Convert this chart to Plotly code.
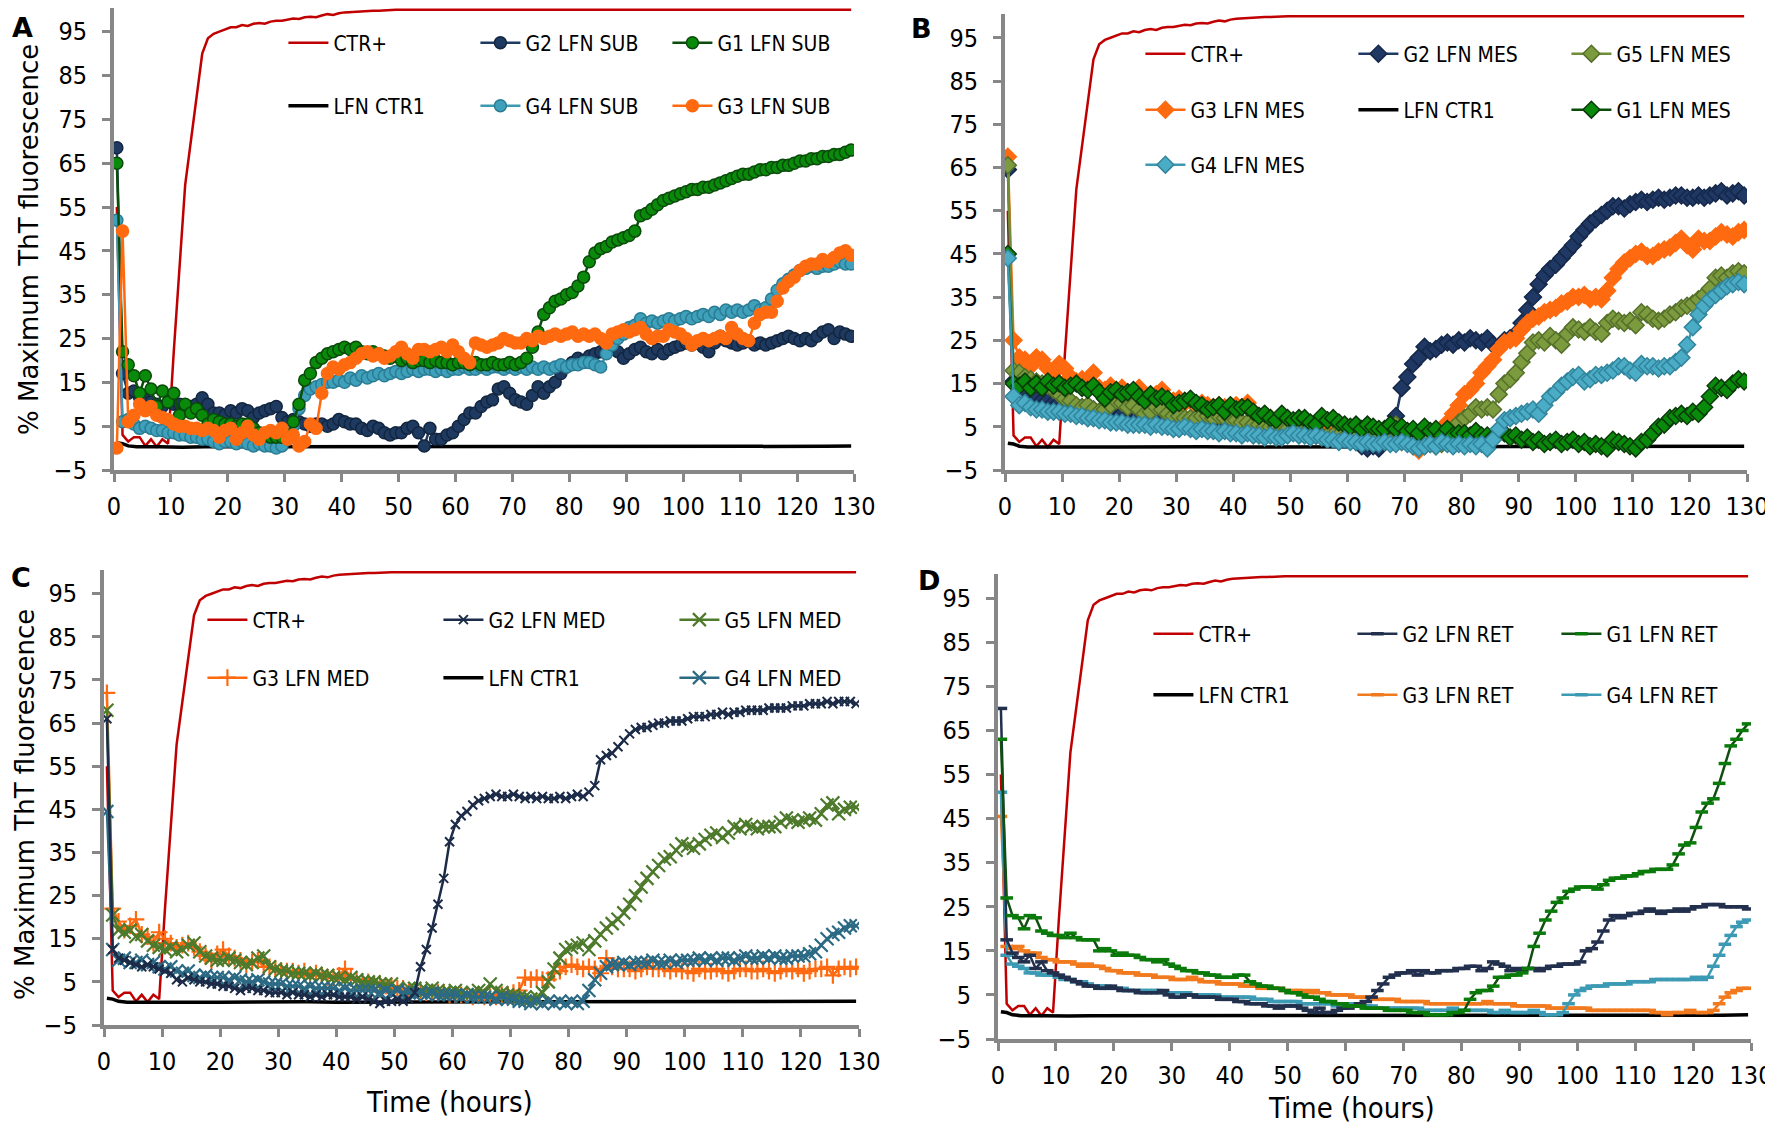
import plotly.graph_objects as go

# readings every hour, first read at 0.5 h
HOURS = [k + 0.5 for k in range(130)]

# positive control, flat at 100 after ~50 h
CTR_HOURS = [k + 0.5 for k in range(50)] + [129.5]
CTR_POS = [
    55, 3, 1.5, 2.5, 2.5, 0.5, 2, 0.3, 2, 1,
    22, 42, 60, 70, 80, 90, 93.5, 94.5, 95, 95.5,
    96, 96, 96.5, 96.3, 96.8, 97, 96.8, 97.3, 97.5, 97.5,
    97.8, 98, 97.9, 98.3, 98.4, 98.3, 98.7, 99, 98.8, 99.2,
    99.4, 99.5, 99.5, 99.6, 99.7, 99.8, 99.8, 99.9, 99.9, 100,
    100]

CTR1_HOURS = [0.5, 1.5, 2.5, 4, 8, 12, 16, 20, 25, 30, 35, 40, 45, 50, 55,
              60, 65, 70, 75, 80, 85, 90, 95, 100, 105, 110, 115, 120, 125, 129.5]
LFN_CTR1 = [1.2, 1.0, 0.5, 0.3, 0.3, 0.2, 0.3, 0.3, 0.4, 0.3, 0.4, 0.3, 0.3, 0.4, 0.3,
            0.4, 0.3, 0.3, 0.4, 0.3, 0.4, 0.3, 0.4, 0.3, 0.3, 0.4, 0.3, 0.3, 0.4, 0.5]

# ---- panel A (SUB) ----
A_G2 = [
    68.5, 17, 12.5, 13, 11.5, 11, 10.5, 10, 9.5, 10.5,
    10, 10, 9.5, 9.5, 10, 11.5, 10, 8, 8, 7.5,
    8.5, 8, 9, 8.5, 7, 8, 8.5, 9, 9.5, 7,
    6, 6.5, 6, 5.5, 5, 5.5, 5.5, 5, 5.5, 6.5,
    6, 5.5, 5.5, 4.5, 4, 5, 4.5, 3.5, 3, 3.5,
    3.5, 4.5, 5, 3.5, 0.5, 4.5, 2, 2, 3, 3.5,
    5, 6.5, 8, 8, 9.5, 10.5, 11, 13.5, 14, 12.5,
    11, 10.5, 10, 12, 14, 12.5, 14, 15, 17, 18.5,
    19.5, 20.5, 20, 21, 21.5, 22, 22.5, 23.5, 22, 20.5,
    21.5, 22.5, 23, 22, 21.5, 22.5, 21.5, 22.5, 23, 23.5,
    24, 23.5, 24, 23, 22, 24, 25.5, 24.5, 24, 23.5,
    24, 24.5, 23.5, 24, 23.5, 24, 24.5, 25, 25.5, 25,
    24.5, 25, 24.5, 25.5, 26.5, 27, 25, 26.5, 26, 25.5]
A_G1 = [
    65, 22, 19, 16.5, 12.5, 16.5, 13.5, 9.5, 13, 10.5,
    12.5, 7.5, 10, 8, 9, 7.5, 5.5, 6.5, 6, 5.5,
    5.5, 5, 5.5, 5.5, 4.5, 3.5, 3, 2.5, 2.5, 2.5,
    3, 6, 10, 15.5, 17, 19.5, 20.5, 21.5, 22, 22.5,
    23, 22.5, 23, 22, 21.5, 22, 21.5, 21, 20.5, 21,
    20, 20.5, 19.5, 20, 20, 19.5, 20, 19.5, 19.5, 19,
    19.5, 19.5, 19, 19.5, 19, 19, 19.5, 19, 19, 19.5,
    19, 19.5, 20.5, 23, 26.5, 30.5, 32, 33.5, 34, 35,
    35.5, 37, 39, 42.5, 44.5, 45.5, 46, 47, 47.5, 48,
    48.5, 49.5, 53, 53.5, 54.5, 55.5, 56.5, 57, 57.5, 58,
    58.5, 59, 59, 59.5, 59.5, 60, 60.5, 61, 61.5, 62,
    62.5, 62.5, 63, 63.5, 63.5, 64, 64, 64.5, 64.5, 65,
    65.5, 65.5, 66, 66, 66.5, 66.5, 67, 67, 67.5, 68]
A_G4 = [
    52, 6, 6.5, 5.5, 4.5, 5, 4.5, 4, 4, 3.5,
    3.5, 3, 3, 2.5, 2.5, 2, 2, 1.5, 1, 1.5,
    1.5, 1, 1.5, 1, 0.5, 1, 0.5, 0.5, 0, 0.5,
    2, 5, 9, 12, 13.5, 14, 14.5, 15, 15, 15.5,
    15, 16, 15.5, 16.5, 16, 16.5, 17, 16.5, 17, 17.5,
    17, 17.5, 18, 17.5, 18, 18, 17.5, 18, 17.5, 18,
    18, 18.5, 18, 18, 18.5, 18, 18.5, 18.5, 18, 18.5,
    18, 18.5, 18, 18.5, 18, 18.5, 18, 18.5, 19, 18.5,
    19, 19, 19.5, 19.5, 19, 18.5, 21.5, 23.5, 25, 26,
    27.5, 28, 29.5, 28.5, 29, 28.5, 29, 29.5, 29, 29.5,
    30, 29.5, 30, 30.5, 30, 31, 30.5, 31.5, 31, 31.5,
    31, 31.5, 32.5, 31.5, 32, 34, 36, 37.5, 38.5, 39.5,
    40.5, 41, 41.5, 41, 41.5, 41.5, 42, 42.5, 42, 42]
A_G3 = [
    0, 49.5, 6, 7.5, 10, 8.5, 9.5, 7.5, 7, 6.5,
    5.5, 5, 5, 4.5, 4.5, 4, 4.5, 4, 2.5, 4,
    4.5, 2, 3.5, 5, 3, 2, 3.5, 4, 3.5, 4.5,
    2, 3, 0.5, 1.5, 5.5, 4.5, 12.5, 17, 18.5, 18,
    19, 19.5, 20.5, 21.5, 22, 21, 21.5, 20.5, 21, 22,
    23, 21.5, 20.5, 22.5, 22.5, 22, 22.5, 23, 22, 23.5,
    22, 20.5, 19.5, 24, 23.5, 23, 23.5, 24, 25, 24.5,
    24, 24, 25, 24.5, 25.5, 25, 25.5, 26, 25.5, 26,
    26.5, 25.5, 26, 25.5, 26, 25, 24, 26, 26.5, 27,
    26.5, 27, 27.5, 26, 25, 25.5, 25.5, 27, 26.5, 26,
    25, 23.5, 24.5, 25, 24.5, 25, 25.5, 25, 27.5, 26,
    25, 24.5, 28.5, 30.5, 31, 31, 33.5, 36.5, 38, 39,
    40.5, 41.5, 42, 42, 43, 42.5, 43.5, 44.5, 45, 44]

# ---- panel B (MES) ----
B_G2 = [
    64.5, 15.5, 13, 12.5, 12, 11.5, 11, 11, 10.5, 10.5,
    10, 10, 9.5, 9.5, 9, 9, 8.5, 8.5, 8, 8,
    8, 7.5, 8, 7.5, 7, 7.5, 7, 7, 7.5, 6.5,
    7, 6.5, 6.5, 6, 6.5, 6, 6, 5.5, 6, 5.5,
    5.5, 5, 5.5, 5, 5.5, 5, 4.5, 4.5, 4, 4.5,
    4, 3.5, 4, 3.5, 3, 3, 2.5, 2.5, 2.5, 2,
    2, 1.5, 0.5, 0, 0.5, 0, 1.5, 3.5, 7.5, 14,
    16.5, 19.5, 21, 23.5, 22.5, 23, 24, 24.5, 24, 25,
    24.5, 25.5, 25, 24.5, 25.5, 24, 23.5, 25, 25.5, 26.5,
    29, 32, 35, 38, 40, 41.5, 42.5, 44, 45.5, 47,
    49, 50.5, 52, 53, 54, 55, 56, 56, 55.5, 56.5,
    57, 57.5, 57, 57.5, 58, 57.5, 58, 58.5, 58.5, 58,
    58, 58.5, 58, 58.5, 59, 59.5, 58.5, 59, 59.5, 58.5]
B_G5 = [
    65.5, 18, 17.5, 16.5, 16, 15.5, 15, 14.5, 13.5, 12.5,
    11.5, 11, 10, 9.5, 10, 9, 8.5, 9, 10, 11,
    10.5, 9.5, 10, 9, 8, 8.5, 9.5, 9, 8, 7.5,
    7.5, 7, 7, 7, 7.5, 7.5, 7, 7.5, 7, 7,
    6.5, 6, 6, 5.5, 5.5, 5, 5, 5, 4.5, 4.5,
    4, 4, 3.5, 3.5, 3.5, 3, 3, 3, 3, 2.5,
    2.5, 2.5, 2.5, 2, 2, 2.5, 3, 5, 5.5, 3,
    2, 1.5, 1, 1.5, 1, 0.5, 1, 3, 4.5, 6,
    7, 8, 9.5, 9, 9.5, 9, 12.5, 15, 16, 17.5,
    20, 22, 24.5, 25, 24.5, 26, 25, 24, 26.5, 28,
    27.5, 27, 28, 27, 26.5, 29, 30, 29.5, 29, 29.5,
    28.5, 31.5, 31, 30, 29.5, 30, 31, 31.5, 32.5, 33,
    33.5, 34.5, 35.5, 37, 39.5, 40, 39.5, 40.5, 41, 40.5]
B_G3 = [
    67.5, 25, 21, 20.5, 19, 21, 20.5, 18.5, 17.5, 19.5,
    18.5, 16.5, 15.5, 16, 15, 17.5, 14, 13.5, 14.5, 13,
    14, 13, 12.5, 14, 12.5, 12, 12.5, 13.5, 11, 11,
    11.5, 10.5, 11, 10, 10.5, 10, 9.5, 10, 9.5, 9,
    10, 9.5, 10.5, 8.5, 7.5, 7.5, 7, 6.5, 6, 6,
    5.5, 5, 5, 4.5, 4.5, 4, 4, 4, 3.5, 3.5,
    3.5, 3, 3, 3, 2.5, 3, 2.5, 2, 2, 1.5,
    1.5, 0.5, -0.5, 0.5, 1.5, 2, 3.5, 6, 8, 10,
    12.5, 13.5, 15, 17.5, 19, 20.5, 23, 24.5, 25, 25.5,
    27.5, 29, 30, 30.5, 31.5, 32, 32.5, 33.5, 34, 35,
    35, 35.5, 34.5, 35, 34.5, 36.5, 39.5, 41.5, 43, 44,
    45, 45.5, 44.5, 44.5, 45.5, 46, 46.5, 47.5, 48.5, 47,
    46, 48.5, 48, 48, 49, 50, 49.5, 49, 50, 50.5]
B_G1 = [
    45, 15, 14.5, 15.5, 14, 15, 14, 15.5, 14.5, 15,
    14, 14.5, 15, 14, 13.5, 14.5, 13, 11.5, 13, 13.5,
    12.5, 13, 13.5, 12, 11, 12.5, 11.5, 12, 11.5, 10,
    10.5, 11, 11.5, 10.5, 10, 9, 9.5, 10, 8.5, 10,
    9, 9.5, 9.5, 8.5, 7.5, 8, 7, 6.5, 8, 7,
    6.5, 7, 7, 6, 5.5, 7.5, 6.5, 7, 6, 5.5,
    5, 5.5, 4.5, 5.5, 5, 4.5, 4.5, 5.5, 4.5, 5,
    4, 4.5, 3.5, 5, 4, 4.5, 3, 4.5, 3, 3.5,
    3.5, 3, 4, 3, 3, 2.5, 4, 3.5, 2.5, 3,
    2, 2.5, 1.5, 2, 1, 1.5, 2, 1, 1.5, 2,
    1, 1.5, 0.5, 1, 0.5, 0, 2, 1.5, 1, 0.5,
    0, 1.5, 2, 3.5, 5, 5.5, 7, 7.5, 8, 7.5,
    8.5, 8, 9.5, 12, 14.5, 14, 13.5, 15, 16, 15.5]
B_G4 = [
    44, 12, 10, 10.5, 9.5, 9, 9, 8.5, 8.5, 8.5,
    8, 8, 7.5, 7.5, 7, 7, 6.5, 6.5, 6, 6,
    6, 5.5, 5.5, 5.5, 5.5, 5, 5.5, 5, 5, 4.5,
    4.5, 5, 4.5, 4, 4.5, 4, 4, 3.5, 4, 3.5,
    3.5, 3, 3.5, 3, 3, 2.5, 3, 2.5, 2.5, 3,
    3.5, 3, 3, 2.5, 3, 2.5, 2, 2, 1.5, 2,
    1.5, 1.5, 1, 1.5, 1, 1, 1.5, 1, 1, 1.5,
    1, 0.5, 0, 0.5, 1, 0.5, 1.5, 1, 0.5, 1,
    0.5, 1, 0.5, 1, 0, 2, 4.5, 6.5, 7, 7.5,
    8, 8.5, 9, 8, 10, 12, 13, 14.5, 15.5, 16.5,
    17, 15.5, 16, 17, 17, 17.5, 18, 19, 19, 18,
    17.5, 19.5, 19, 19, 18.5, 19, 19, 20, 21, 24,
    28, 31, 33, 34.5, 35.5, 36.5, 37.5, 38, 38.5, 38]

# ---- panel C (MED) ----
C_G2 = [
    66, 12.5, 10.5, 10, 9.5, 9, 8.5, 9, 8.5, 8,
    7.5, 7, 5.5, 5, 6, 5.5, 5, 5, 4.5, 4.5,
    4, 4, 3.5, 3, 3.5, 3.5, 3, 3, 2.5, 2.5,
    2.5, 2, 2.5, 2, 2, 1.5, 2, 1.5, 2, 2,
    1.5, 1.5, 1.5, 1, 1.5, 1, 0.5, 0, 0.5, 0.5,
    1, 0.5, 1, 2.5, 8.5, 12.5, 17.5, 23, 29, 37.5,
    41.5, 43.5, 44.5, 46, 47, 47.5, 48, 48.5, 48, 48,
    48.5, 48, 47.5, 48, 47.5, 48, 47.5, 47.5, 48, 47.5,
    48, 48.5, 48, 49, 50.5, 56.5, 57.5, 58, 59.5, 61,
    62.5, 63.5, 64, 64, 64.5, 65, 65, 65.5, 65.5, 65.5,
    66, 66.5, 66.5, 66.5, 67, 67, 67.5, 67, 67.5, 67.5,
    68, 68, 68, 68, 68.5, 68.5, 68.5, 68.5, 69, 69,
    69, 69.5, 69.5, 69.5, 70, 69.5, 70, 70, 70, 69.5]
C_G5 = [
    68, 20.5, 17, 16.5, 17, 15.5, 16, 14.5, 13.5, 13,
    12.5, 13, 12, 12.5, 13.5, 14, 12, 11, 10.5, 10,
    10, 10.5, 10, 9.5, 9, 9.5, 10.5, 11, 8.5, 8,
    7.5, 7.5, 7, 7, 7, 6.5, 7, 6.5, 6.5, 6,
    6, 5.5, 6, 5.5, 5, 5, 5, 4.5, 4.5, 4.5,
    3.5, 2, 3.5, 3.5, 3, 3, 3.5, 3, 2.5, 2.5,
    3, 2.5, 2, 2.5, 3, 2.5, 4.5, 3, 2.5, 2,
    2, 1.5, 1.5, 1, 1.5, 2.5, 5, 8, 10.5, 12.5,
    13, 13.5, 14, 12.5, 14.5, 16, 17.5, 18.5, 19.5, 21,
    23, 25, 27, 29, 30.5, 32, 33.5, 34, 35.5, 37,
    36.5, 36, 37, 38, 39, 39.5, 38.5, 39.5, 41, 40.5,
    41.5, 41, 40.5, 41, 41, 41, 42, 43, 42.5, 42,
    42.5, 43, 42.5, 44, 46, 46.5, 44, 45, 45.5, 45.5]
C_G3 = [
    72, 22, 19, 17, 18, 19.5, 16, 15.5, 14, 16.5,
    15, 14, 13, 13.5, 14, 13, 12, 11, 10, 11.5,
    12.5, 11, 10.5, 10, 9, 9.5, 10, 8.5, 8.5, 8,
    7.5, 7.5, 7.5, 7, 7.5, 6.5, 7, 6.5, 6, 6,
    6.5, 8, 6, 5.5, 5, 5, 4.5, 4.5, 4, 4,
    3.5, 3.5, 3, 3, 3, 2.5, 2.5, 2.5, 2.5, 2,
    2, 2, 2, 1.5, 2, 1.5, 1.5, 1.5, 2, 2,
    2.5, 3, 6, 5.5, 6, 5.5, 5.5, 7, 7.5, 8.5,
    9, 8.5, 8, 8.5, 8, 7, 10.5, 8.5, 8, 8,
    8, 7.5, 8, 8.5, 8, 8, 8, 7.5, 8, 7.5,
    7.5, 7, 8, 7.5, 7.5, 8, 7.5, 7, 7.5, 8,
    8, 7.5, 7.5, 8, 7.5, 7, 7.5, 8, 7.5, 8,
    7, 7.5, 8, 8, 8.5, 6.5, 8, 8.5, 8, 8.5]
C_G4 = [
    44.5, 12.5, 10, 10.5, 9.5, 9.5, 10, 9, 9.5, 8.5,
    8, 8.5, 7.5, 7, 7.5, 6.5, 6, 6.5, 6, 6,
    6, 5.5, 6, 5.5, 5, 5, 5.5, 5, 4.5, 4.5,
    4.5, 4, 4, 4, 3.5, 4, 3.5, 3.5, 3.5, 3.5,
    3, 3.5, 3, 3, 3, 3, 3, 2.5, 3, 2.5,
    3, 2.5, 2.5, 2, 2.5, 2, 2.5, 2, 2, 2,
    2, 1.5, 2, 1.5, 1.5, 1.5, 1.5, 1, 1.5, 1,
    1, 0.5, 0.5, 0, 0.5, 0, 0.5, 0, 0.5, 0,
    0.5, 0, 0.5, 3, 5.5, 7, 8.5, 9, 9, 9.5,
    9, 9.5, 9.5, 9.5, 10, 9.5, 9.5, 10, 9.5, 10,
    10, 10, 10.5, 10, 10.5, 10, 10.5, 10.5, 10, 10.5,
    11, 10.5, 10.5, 11, 10.5, 11, 10.5, 10.5, 11, 11,
    11, 11.5, 12, 13.5, 15, 16, 16.5, 17.5, 18, 18]

# ---- panel D (RET) ----
D_G2 = [
    70, 17.5, 14.5, 13.5, 12.5, 14, 11, 12.5, 10.5, 10,
    9.5, 9, 8.5, 8, 7.5, 7, 7, 6.5, 6.5, 7,
    6.5, 6, 6, 6, 5.5, 5.5, 5.5, 5.5, 6, 5,
    4.5, 4.5, 5, 5, 4.5, 4.5, 4.5, 4.5, 4, 4,
    4, 3.5, 3.5, 3, 3, 3, 2.5, 2.5, 2, 2.5,
    2.5, 2.5, 2, 1.5, 1, 2, 1, 1, 1.5, 2,
    2, 2.5, 3, 3.5, 4.5, 6, 7.5, 9, 9.5, 10,
    10, 10.5, 9.5, 10.5, 10, 10, 10.5, 10.5, 10.5, 11,
    11, 11.5, 11.5, 10.5, 11, 12.5, 12, 11.5, 10.5, 11,
    10.5, 11, 11, 10.5, 11, 11.5, 11.5, 12, 12, 12,
    12.5, 15, 15.5, 17, 19.5, 22, 23, 22.5, 23, 23.5,
    23.5, 24, 24.5, 24, 23.5, 24, 24, 24.5, 24, 24.5,
    25, 25, 25.5, 25.5, 25.5, 25, 25, 25, 25, 24.5]
D_G1 = [
    63, 27, 23, 22.5, 20, 23, 22.5, 19.5, 19, 18.5,
    18.5, 18, 19, 18, 17.5, 17.5, 17.5, 15, 15.5, 15,
    14, 14.5, 14, 14, 13.5, 13, 13, 12.5, 13, 12,
    11.5, 11, 10.5, 10.5, 10, 10, 9.5, 9.5, 9, 9,
    9, 9.5, 9.5, 8, 7.5, 7, 7, 6.5, 6.5, 6,
    5.5, 5.5, 5, 4.5, 4.5, 4, 3.5, 3.5, 3, 3,
    2.5, 2.5, 2.5, 2, 2, 2, 2, 1.5, 1.5, 1.5,
    1.5, 1, 1, 1, 0.5, 0.5, 0.5, 0.5, 1, 1,
    1.5, 4, 5.5, 6, 6, 7, 9, 9, 9.5, 9.5,
    10, 11, 16, 19, 22, 24, 26, 27, 28.5, 29,
    29.5, 29.5, 29.5, 29, 30, 31, 31.5, 31.5, 32, 32,
    32.5, 33, 33, 33.5, 33.5, 33.5, 34.5, 37, 39, 39.5,
    43, 46.5, 48.5, 49.5, 53, 57.5, 61.5, 63, 65, 66.5]
D_G3 = [
    45.5, 16, 15.5, 16, 15, 14.5, 14.5, 13.5, 13, 13,
    12.5, 12.5, 12.5, 12, 11.5, 12, 11.5, 11.5, 11, 10.5,
    10.5, 10, 10, 10, 9.5, 9.5, 9.5, 9, 9, 9,
    8.5, 8.5, 8.5, 9, 8.5, 8, 8, 8, 7.5, 7.5,
    7.5, 7.5, 7, 7, 7, 6.5, 6.5, 6.5, 6.5, 6,
    6, 6, 6, 5.5, 6, 5.5, 5.5, 5, 5, 5,
    5, 4.5, 4.5, 4.5, 4.5, 4, 4, 4, 4, 3.5,
    3.5, 3.5, 3.5, 3.5, 3, 3, 3, 3, 3, 3,
    3, 3, 3, 3, 3.5, 3, 3, 3, 3, 2.5,
    2.5, 2.5, 2.5, 2.5, 2.5, 2, 2, 2, 2, 2,
    2, 2, 1.5, 1.5, 1.5, 1.5, 1.5, 1.5, 1.5, 1.5,
    1.5, 1.5, 1.5, 1, 1, 0.5, 1, 1, 1, 1.5,
    1, 1, 1, 1.5, 3, 4.5, 5.5, 6, 6.5, 6.5]
D_G4 = [
    51, 14, 12, 11.5, 11, 10, 10, 9.5, 9.5, 9.5,
    9, 8.5, 8.5, 8, 8, 7.5, 7, 7, 7, 6.5,
    6.5, 6.5, 6, 6, 6, 6, 6, 6, 5.5, 5.5,
    5.5, 5.5, 5.5, 5, 5, 5, 5, 5, 4.5, 4.5,
    4.5, 4.5, 4.5, 4.5, 4, 4, 4, 3.5, 3.5, 3.5,
    3.5, 3.5, 3, 3, 3, 3, 3, 3, 2.5, 2.5,
    3, 2.5, 2.5, 2.5, 2.5, 2, 2, 2, 2, 2,
    2, 2, 2, 1.5, 1.5, 1.5, 1.5, 1.5, 2, 1.5,
    1.5, 1.5, 1.5, 1.5, 1.5, 1, 1, 1.5, 1, 1,
    1, 1, 1.5, 1, 0.5, 0.5, 0.5, 1, 3, 5,
    6, 6.5, 7, 7, 7, 7.5, 7.5, 7.5, 7.5, 8,
    8, 8, 8, 8.5, 8.5, 8.5, 8.5, 8.5, 8.5, 8.5,
    9, 8.5, 9, 11.5, 14, 16.5, 18.5, 20.5, 21.5, 22]

X_TICKS = [0, 10, 20, 30, 40, 50, 60, 70, 80, 90, 100, 110, 120, 130]
Y_TICKS = [-5, 5, 15, 25, 35, 45, 55, 65, 75, 85, 95]

GREY = "#878787"
NARROW = "Liberation Sans Narrow, DejaVu Sans Condensed, Arial Narrow, sans-serif"
RED = "#C00000"

# the page body has an 8px margin, so the figure is drawn 8px smaller and
# every placement below (given in screen pixels) is shifted by that offset
OFF = 8
W, H = 1773 - OFF, 1128 - OFF


def px(x):
    return (x - OFF) / W


def py(y):
    return 1 - (y - OFF) / H


def mk(symbol, fill, edge, size, lw=1.5):
    return dict(symbol=symbol, color=fill, size=size, line=dict(color=edge, width=lw))


# name, values, line color, marker, legend row, rank within row
panels = {
    "A": dict(
        x="x", y="y", xdom=(114, 854), ydom=(8, 470), ytop=100.4,
        rows=[(294, 43), (294, 106)], entry=137,
        series=[
            ("CTR+", None, RED, None, 0, 1),
            ("LFN CTR1", "ctr1", "#000000", None, 1, 1),
            ("G2 LFN SUB", A_G2, "#1F3A60", mk("circle", "#1F3A60", "#13263F", 12), 0, 2),
            ("G4 LFN SUB", A_G4, "#3C98B3", mk("circle", "#3FA0BB", "#2A7C93", 12), 1, 2),
            ("G1 LFN SUB", A_G1, "#0B4D0B", mk("circle", "#0A8A0A", "#0A4A0A", 12), 0, 3),
            ("G3 LFN SUB", A_G3, "#FF6A10", mk("circle", "#FF6A10", "#FF6A10", 12), 1, 3),
        ]),
    "B": dict(
        x="x2", y="y2", xdom=(1005, 1747), ydom=(14, 470), ytop=100.5,
        rows=[(1151, 54), (1151, 110), (1151, 165)], entry=158,
        series=[
            ("CTR+", None, RED, None, 0, 1),
            ("LFN CTR1", "ctr1", "#000000", None, 1, 2),
            ("G2 LFN MES", B_G2, "#1F3864", mk("diamond", "#1F3864", "#15284A", 13), 0, 2),
            ("G3 LFN MES", B_G3, "#FF6A10", mk("diamond", "#FF6A10", "#FF6A10", 13), 1, 1),
            ("G5 LFN MES", B_G5, "#6F8C36", mk("diamond", "#7C9B3E", "#55702A", 13), 0, 3),
            ("G1 LFN MES", B_G1, "#0B4D0B", mk("diamond", "#0A8A0A", "#0A3A0A", 13), 1, 3),
            ("G4 LFN MES", B_G4, "#3C98B3", mk("diamond", "#4BACC6", "#31859C", 13), 2, 1),
        ]),
    "C": dict(
        x="x3", y="y3", xdom=(104, 859), ydom=(570, 1025), ytop=100.5,
        rows=[(213, 620), (213, 678)], entry=181,
        series=[
            ("CTR+", None, RED, None, 0, 1),
            ("LFN CTR1", "ctr1", "#000000", None, 1, 2),
            ("G3 LFN MED", C_G3, "#FF6A10", mk("cross-thin", "#FF6A10", "#FF6A10", 12, 2.2), 1, 1),
            ("G5 LFN MED", C_G5, "#4E7A2C", mk("x-thin", "#4E7A2C", "#4E7A2C", 13, 2.2), 0, 3),
            ("G4 LFN MED", C_G4, "#2C6A84", mk("x-thin", "#2C6A84", "#2C6A84", 13, 2.2), 1, 3),
            ("G2 LFN MED", C_G2, "#1C2B48", mk("x-thin", "#1C2B48", "#1C2B48", 9, 2), 0, 2),
        ]),
    "D": dict(
        x="x4", y="y4", xdom=(998, 1751), ydom=(574, 1039), ytop=100.5,
        rows=[(1159, 634), (1159, 695)], entry=149,
        series=[
            ("CTR+", None, RED, None, 0, 1),
            ("LFN CTR1", "ctr1", "#000000", None, 1, 1),
            ("G3 LFN RET", D_G3, "#F27A1E", mk("line-ew", "#F27A1E", "#F27A1E", 9, 3.5), 1, 2),
            ("G4 LFN RET", D_G4, "#3C9AB4", mk("line-ew", "#3C9AB4", "#3C9AB4", 9, 3.5), 1, 3),
            ("G2 LFN RET", D_G2, "#22304D", mk("line-ew", "#22304D", "#22304D", 9, 3.5), 0, 2),
            ("G1 LFN RET", D_G1, "#0F4F0F", mk("line-ew", "#0A7A0A", "#0A7A0A", 9, 3.5), 0, 3),
        ]),
}

fig = go.Figure()
layout = dict(
    width=W, height=H, margin=dict(l=0, r=0, t=0, b=0, autoexpand=False),
    paper_bgcolor="white", plot_bgcolor="white", showlegend=True,
    font=dict(family=NARROW, color="#000000"),
)

legend_n = 0
for key, p in panels.items():
    # one horizontal legend per legend row
    row_names = []
    for (lx, ly) in p["rows"]:
        legend_n += 1
        name = "legend" if legend_n == 1 else "legend%d" % legend_n
        row_names.append(name)
        layout[name] = dict(
            orientation="h", x=px(lx) - 0.006, y=py(ly), xanchor="left", yanchor="middle",
            bgcolor="rgba(0,0,0,0)", font=dict(family=NARROW, size=21, color="#000"),
            itemwidth=40, entrywidth=p["entry"], entrywidthmode="pixels",
            traceorder="normal", tracegroupgap=0,
        )
    for (name, vals, lcol, marker, row, rank) in p["series"]:
        if vals is None:
            tx, ty, mode, lw = CTR_HOURS, CTR_POS, "lines", 2.5
        elif vals == "ctr1":
            tx, ty, mode, lw = CTR1_HOURS, LFN_CTR1, "lines", 3.5
        else:
            tx, ty, mode, lw = HOURS, vals, "lines+markers", 2.5
        tr = dict(x=tx, y=ty, mode=mode, name=name, xaxis=p["x"], yaxis=p["y"],
                  line=dict(color=lcol, width=lw), legend=row_names[row], legendrank=rank)
        if marker:
            tr["marker"] = marker
        fig.add_trace(go.Scatter(**tr))

    ax = dict(showline=True, linecolor=GREY, linewidth=4, ticks="outside", ticklen=8,
              tickwidth=3, tickcolor=GREY, showgrid=False, zeroline=False,
              tickfont=dict(family=NARROW, size=25, color="#000"))
    xk = "xaxis" if p["x"] == "x" else "xaxis" + p["x"][1:]
    yk = "yaxis" if p["y"] == "y" else "yaxis" + p["y"][1:]
    layout[xk] = dict(ax, domain=[px(p["xdom"][0]), px(p["xdom"][1])], range=[0, 130],
                      tickvals=X_TICKS, anchor=p["y"], ticklabelstandoff=3)
    layout[yk] = dict(ax, domain=[py(p["ydom"][1]), min(1, py(p["ydom"][0]))],
                      range=[-5, p["ytop"]], tickvals=Y_TICKS, anchor=p["x"],
                      ticklabelstandoff=10)

fig.update_layout(**layout)

# panel letters kept just inside the drawable page area
notes = [
    ("A", 22, 27, 27, True, 0, "DejaVu Sans"),
    ("B", 921, 28, 27, True, 0, "DejaVu Sans"),
    ("C", 21, 577, 27, True, 0, "DejaVu Sans"),
    ("D", 929, 580, 27, True, 0, "DejaVu Sans"),
    ("% Maximum ThT fluorescence", 29, 240, 26, False, -90, "DejaVu Sans"),
    ("% Maximum ThT fluorescence", 25, 805, 26, False, -90, "DejaVu Sans"),
    ("Time (hours)", 449, 1102, 29, False, 0, NARROW),
    ("Time (hours)", 1351, 1108, 29, False, 0, NARROW),
]
for (txt, x, y, sz, bold, ang, fam) in notes:
    fig.add_annotation(
        text="<b>%s</b>" % txt if bold else txt, x=px(x), y=py(y),
        xref="paper", yref="paper", showarrow=False, textangle=ang,
        font=dict(family=fam, size=sz, color="#000"), xanchor="center", yanchor="middle")

fig.write_html("out.html")
